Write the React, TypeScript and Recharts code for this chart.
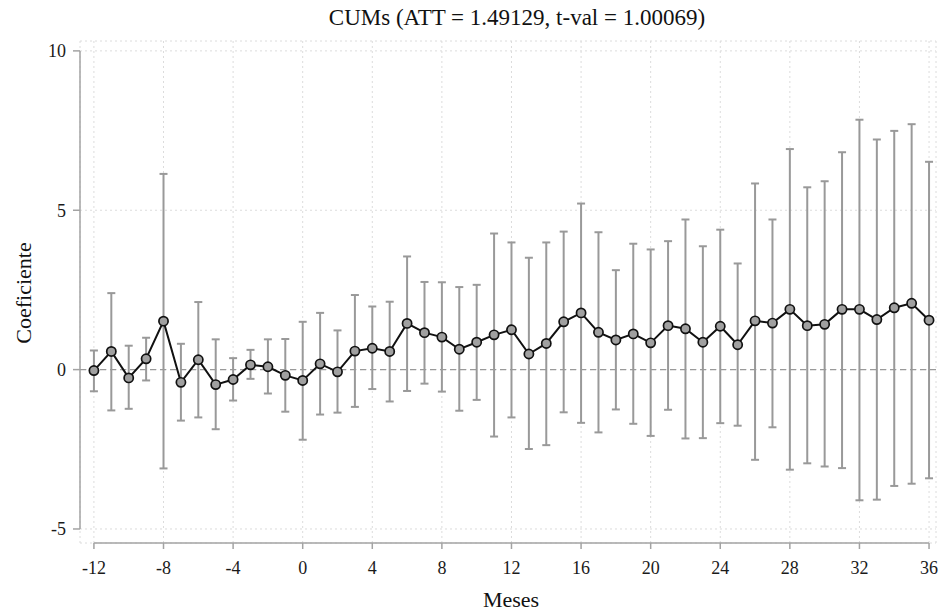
import React from 'react';
import {
  ComposedChart,
  Line,
  XAxis,
  YAxis,
  CartesianGrid,
  ReferenceLine,
  ErrorBar,
} from 'recharts';

const months = [
  -12, -11, -10, -9, -8, -7, -6, -5, -4, -3, -2, -1,
  0, 1, 2, 3, 4, 5, 6, 7, 8, 9,
  10, 11, 12, 13, 14, 15, 16, 17, 18, 19,
  20, 21, 22, 23, 24, 25, 26, 27, 28, 29,
  30, 31, 32, 33, 34, 35, 36,
];

const coef = [
  -0.03, 0.57, -0.26, 0.34, 1.52, -0.4, 0.31, -0.47, -0.31, 0.15, 0.09, -0.18,
  -0.34, 0.18, -0.07, 0.58, 0.67, 0.57, 1.45, 1.16, 1.02, 0.64,
  0.86, 1.09, 1.25, 0.49, 0.82, 1.5, 1.78, 1.17, 0.93, 1.12,
  0.84, 1.38, 1.28, 0.86, 1.36, 0.78, 1.53, 1.46, 1.89, 1.38,
  1.42, 1.89, 1.89, 1.57, 1.94, 2.08, 1.55,
];

const ciHigh = [
  0.6, 2.4, 0.75, 1.0, 6.14, 0.81, 2.12, 0.95, 0.36, 0.62, 0.95, 0.96,
  1.5, 1.78, 1.23, 2.34, 1.98, 2.13, 3.55, 2.75, 2.74, 2.59,
  2.66, 4.27, 3.99, 3.51, 3.99, 4.33, 5.21, 4.31, 3.12, 3.95,
  3.77, 4.03, 4.71, 3.87, 4.39, 3.33, 5.84, 4.71, 6.92, 5.72,
  5.91, 6.82, 7.84, 7.22, 7.49, 7.7, 6.52,
];

const ciLow = [
  -0.68, -1.28, -1.23, -0.34, -3.1, -1.6, -1.5, -1.87, -0.97, -0.29, -0.75, -1.32,
  -2.2, -1.41, -1.35, -1.17, -0.61, -1.0, -0.67, -0.44, -0.69, -1.29,
  -0.95, -2.1, -1.5, -2.49, -2.37, -1.34, -1.67, -1.97, -1.25, -1.7,
  -2.08, -1.26, -2.16, -2.15, -1.68, -1.76, -2.83, -1.81, -3.14, -2.94,
  -3.04, -3.09, -4.1, -4.08, -3.65, -3.58, -3.41,
];

const xTicks = [-12, -8, -4, 0, 4, 8, 12, 16, 20, 24, 28, 32, 36];
const yTicks = [-5, 0, 5, 10];

const titleText = 'CUMs (ATT = 1.49129, t-val = 1.00069)';
const xLabelText = 'Meses';
const yLabelText = 'Coeficiente';

const X_DOMAIN: [number, number] = [-12.8, 36.4];
const Y_DOMAIN: [number, number] = [-5.44, 10.31];

const data = months.map((m, i) => ({
  month: m,
  coef: coef[i],
  err: [coef[i] - ciLow[i], ciHigh[i] - coef[i]],
}));

const FONT = '"Liberation Serif", "Times New Roman", serif';
const AXIS_COLOR = '#a3a3a3';

export default function App() {
  return (
    <div
      style={{
        position: 'absolute',
        left: 0,
        top: 0,
        width: 941,
        height: 612,
        background: '#fff',
        fontFamily: FONT,
      }}
    >
      <ComposedChart
        width={941}
        height={612}
        data={data}
        margin={{ top: 41, right: 5, bottom: 39, left: 20 }}
      >
        <CartesianGrid stroke="#dcdcdc" strokeDasharray="2 3" strokeWidth={1} />
        <XAxis
          type="number"
          dataKey="month"
          domain={X_DOMAIN}
          ticks={xTicks}
          allowDataOverflow
          axisLine={false}
          tickLine={{ stroke: AXIS_COLOR, strokeWidth: 1.5 }}
          tickSize={6}
          tickMargin={12}
          height={30}
          tick={{ fontFamily: FONT, fontSize: 18, fill: '#1a1a1a' }}
        />
        <YAxis
          type="number"
          domain={Y_DOMAIN}
          ticks={yTicks}
          allowDataOverflow
          axisLine={false}
          tickLine={{ stroke: AXIS_COLOR, strokeWidth: 1.5 }}
          tickSize={7}
          tickMargin={7}
          width={60}
          tick={{ fontFamily: FONT, fontSize: 18, fill: '#1a1a1a' }}
        />
        <ReferenceLine
          segment={[
            { x: xTicks[0], y: Y_DOMAIN[0] },
            { x: xTicks[xTicks.length - 1], y: Y_DOMAIN[0] },
          ]}
          stroke={AXIS_COLOR}
          strokeWidth={1.5}
          ifOverflow="visible"
        />
        <ReferenceLine
          segment={[
            { x: X_DOMAIN[0], y: yTicks[0] },
            { x: X_DOMAIN[0], y: yTicks[yTicks.length - 1] },
          ]}
          stroke={AXIS_COLOR}
          strokeWidth={1.5}
          ifOverflow="visible"
        />
        <ReferenceLine y={0} stroke="#9a9a9a" strokeWidth={1.4} strokeDasharray="6 4" />
        <Line
          dataKey="coef"
          stroke="none"
          dot={false}
          activeDot={false}
          isAnimationActive={false}
        >
          <ErrorBar
            dataKey="err"
            direction="y"
            width={4}
            stroke="#999"
            strokeWidth={2}
            isAnimationActive={false}
          />
        </Line>
        <Line
          dataKey="coef"
          stroke="#111"
          strokeWidth={2}
          dot={{ r: 4.6, fill: '#a0a0a0', stroke: '#111', strokeWidth: 1.7 }}
          activeDot={false}
          isAnimationActive={false}
        />
      </ComposedChart>
      <div
        style={{
          position: 'absolute',
          left: 0,
          width: 1034,
          top: 4,
          textAlign: 'center',
          fontSize: 23,
          color: '#111',
          whiteSpace: 'nowrap',
          lineHeight: '28px',
        }}
      >
        {titleText}
      </div>
      <div
        style={{
          position: 'absolute',
          left: 0,
          width: 1022,
          top: 586,
          textAlign: 'center',
          fontSize: 22,
          color: '#111',
          lineHeight: '28px',
        }}
      >
        {xLabelText}
      </div>
      <div
        style={{
          position: 'absolute',
          left: 24,
          top: 293,
          transform: 'translate(-50%, -50%) rotate(-90deg)',
          fontSize: 22,
          color: '#111',
          whiteSpace: 'nowrap',
          lineHeight: '28px',
        }}
      >
        {yLabelText}
      </div>
    </div>
  );
}
